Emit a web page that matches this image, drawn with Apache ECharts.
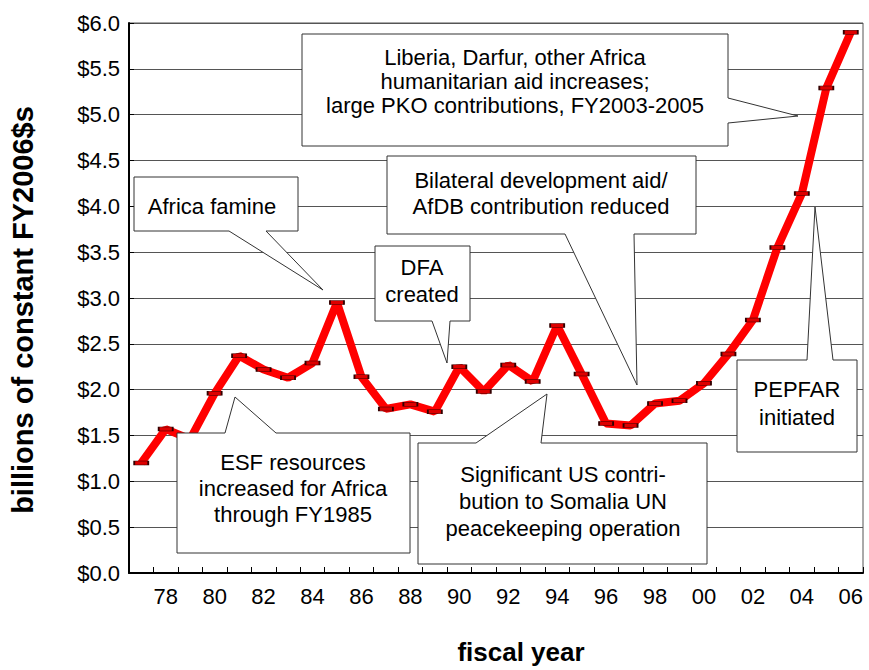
<!DOCTYPE html>
<html>
<head>
<meta charset="utf-8">
<script src="https://cdn.jsdelivr.net/npm/echarts@6/dist/echarts.min.js"></script>
<style>
  html, body { margin: 0; padding: 0; background: #ffffff; }
  #chart { width: 869px; height: 670px; }
</style>
</head>
<body>
<div id="chart"></div>
<script>
// ---- data ----
const years = ['77','78','79','80','81','82','83','84','85','86','87','88','89','90','91','92','93','94','95','96','97','98','99','00','01','02','03','04','05','06'];
const aidBillions = [1.20,1.57,1.46,1.96,2.37,2.22,2.13,2.29,2.95,2.14,1.79,1.84,1.76,2.25,1.98,2.27,2.09,2.70,2.17,1.63,1.61,1.85,1.88,2.07,2.39,2.76,3.55,4.14,5.29,5.90];
const yAxisTitle = 'billions of constant FY2006$s';
const xAxisTitle = 'fiscal year';
const notes = {
  liberia: 'Liberia, Darfur, other Africa\nhumanitarian aid increases;\nlarge PKO contributions, FY2003-2005',
  bilateral: 'Bilateral development aid/\nAfDB contribution reduced',
  dfa: 'DFA\ncreated',
  famine: 'Africa famine',
  esf: 'ESF resources\nincreased for Africa\nthrough FY1985',
  somalia: 'Significant US contri-\nbution to Somalia UN\npeacekeeping operation',
  pepfar: 'PEPFAR\ninitiated'
};

// ---- chart ----
const FONT = '"Liberation Sans", Arial, sans-serif';
const chart = echarts.init(document.getElementById('chart'), null, { renderer: 'svg' });

function callout(points, textKey, cx, cy, lh) {
  return [
    { type: 'polygon', z: 100, shape: { points: points },
      style: { fill: '#ffffff', stroke: '#333333', lineWidth: 1 } },
    { type: 'text', z: 101, x: cx, y: cy,
      style: { text: notes[textKey], fill: '#000000', font: '22px ' + FONT,
               textAlign: 'center', textVerticalAlign: 'middle', lineHeight: lh || 25 } }
  ];
}

const graphics = [].concat(
  callout([[302,34],[728,34],[728,98],[798,116],[728,123],[728,146],[302,146]], 'liberia', 515, 81, 24),
  callout([[387,156],[696,156],[696,234],[634,234],[637,385],[565,234],[387,234]], 'bilateral', 541, 193, 26),
  callout([[375,246],[470,246],[470,321],[450,321],[447,363],[432,321],[375,321]], 'dfa', 422, 281, 27),
  callout([[134,177],[298,177],[298,231],[266,231],[323,290],[229,231],[134,231]], 'famine', 212, 206, 25),
  callout([[177,433],[225,433],[235,397],[276,433],[410,433],[410,553],[177,553]], 'esf', 293, 488, 26),
  callout([[418,443],[476,443],[547,394],[541,443],[707,443],[707,564],[418,564]], 'somalia', 563, 501, 27),
  callout([[737,360],[807,360],[815,207],[833,360],[857,360],[857,452],[737,452]], 'pepfar', 797, 403, 28)
);

const option = {
  backgroundColor: '#ffffff',
  animation: false,
  grid: { left: 127, right: 6, top: 23, bottom: 95, show: true, borderColor: '#555555', borderWidth: 1 },
  xAxis: {
    type: 'category',
    data: years,
    boundaryGap: true,
    name: xAxisTitle,
    nameLocation: 'middle',
    nameGap: 66,
    nameTextStyle: { fontFamily: FONT, fontWeight: 'bold', fontSize: 26, color: '#000', padding: [0, 0, 0, 50] },
    axisLine: { lineStyle: { color: '#000', width: 2 } },
    axisTick: { show: true, inside: true, length: 6, interval: 0, alignWithLabel: false, lineStyle: { color: '#000' } },
    axisLabel: {
      interval: function (idx) { return idx % 2 === 1; },
      fontFamily: FONT, fontSize: 22, color: '#000', margin: 12
    },
    splitLine: { show: false }
  },
  yAxis: {
    type: 'value',
    min: 0, max: 6, interval: 0.5,
    name: yAxisTitle,
    nameLocation: 'middle',
    nameGap: 92,
    nameTextStyle: { fontFamily: FONT, fontWeight: 'bold', fontSize: 29, color: '#000', padding: [0, 24, 0, 0] },
    axisLine: { show: true, lineStyle: { color: '#000', width: 2 } },
    axisTick: { show: true, inside: true, length: 5, lineStyle: { color: '#000' } },
    axisLabel: {
      formatter: function (v) { return '$' + v.toFixed(1); },
      fontFamily: FONT, fontSize: 22, color: '#000', margin: 9
    },
    splitLine: { show: true, lineStyle: { color: '#555555', width: 1 } }
  },
  series: [{
    type: 'line',
    data: aidBillions,
    lineStyle: { color: '#ff0000', width: 8 },
    itemStyle: { color: '#dd0000', borderColor: '#330000', borderWidth: 1 },
    symbol: 'rect',
    symbolSize: [14, 4],
    showSymbol: true,
    z: 3
  }],
  graphic: { elements: graphics }
};
chart.setOption(option);
</script>
</body>
</html>
